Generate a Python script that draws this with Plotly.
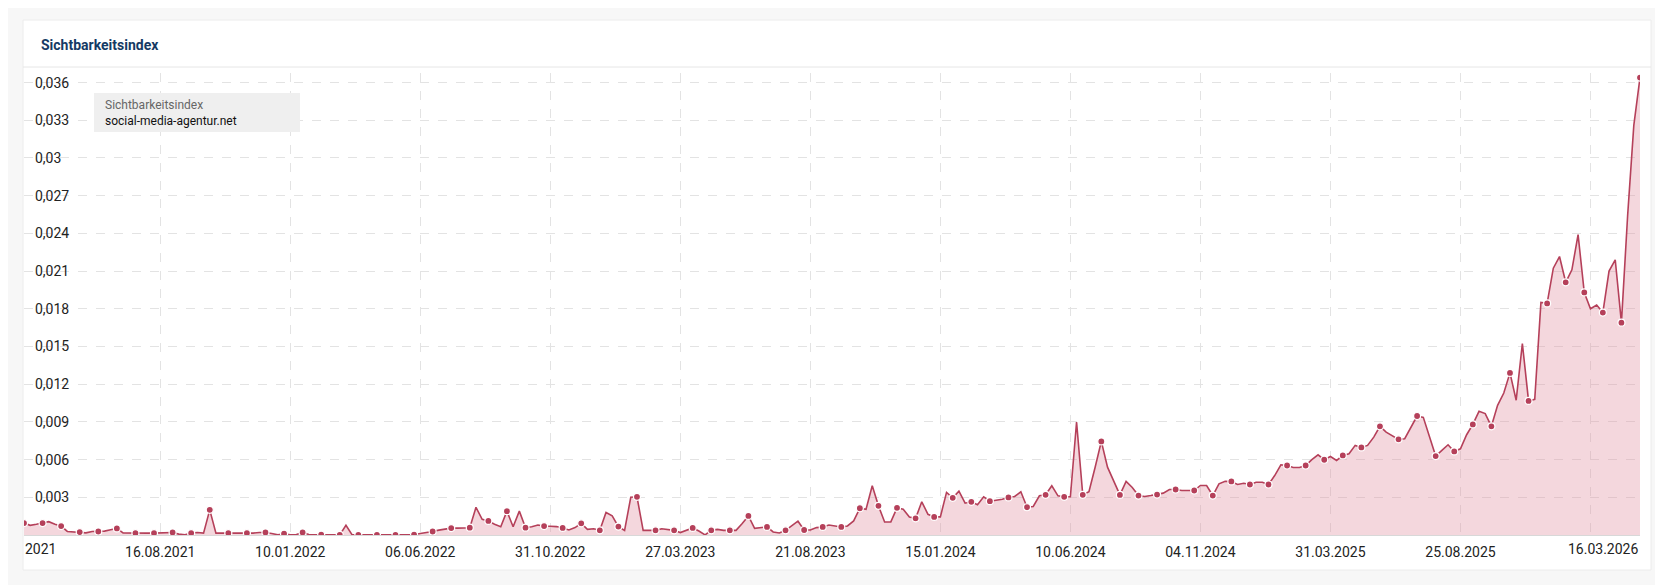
import pandas as pd
import plotly.graph_objects as go

W, H = 1663, 585

start_date = "2021-03-15"
visibility = [
    0.00095, 0.00077, 0.00085, 0.00095, 0.00106, 0.00085, 0.00071, 0.00028, 0.00023, 0.00023,
    0.00017, 0.00028, 0.00028, 0.00031, 0.00042, 0.00052, 0.00017, 0.00015, 0.00015, 0.00015,
    0.00015, 0.00015, 0.00015, 0.00017, 0.0002, 0.00007, 0.00002, 0.00015, 0.0002, 0.00015,
    0.002, 0.00015, 0.00015, 0.00015, 0.00012, 0.00015, 0.00015, 0.00015, 0.0002, 0.0002,
    0.00012, 0.00002, 0.0001, 0.00001, 0.00004, 0.0002, 0.00004, 0.00002, 0.00002, 0.00001,
    0.00001, 0.00001, 0.00077, 0.00001, 0.00001, 0.00001, 0.00001, 0.00001, 0.00001, 0.00001,
    0.00001, 0.00001, 0.00002, 0.00002, 0.00012, 0.00023, 0.00028, 0.00039, 0.0005, 0.00055,
    0.00055, 0.00058, 0.00058, 0.0022, 0.00125, 0.00112, 0.00085, 0.00066, 0.0019, 0.00066,
    0.0019, 0.00058, 0.00066, 0.0008, 0.00071, 0.0007, 0.00067, 0.00056, 0.0004, 0.00059,
    0.00093, 0.00045, 0.0005, 0.00037, 0.00179, 0.00152, 0.00067, 0.00037, 0.003, 0.00304,
    0.00037, 0.00037, 0.00037, 0.0005, 0.00045, 0.00037, 0.00019, 0.0004, 0.00056, 0.00032,
    0.00001, 0.00037, 0.00045, 0.00037, 0.00037, 0.00037, 0.00091, 0.00152, 0.00053, 0.00056,
    0.00064, 0.00024, 0.00016, 0.00037, 0.00072, 0.0011, 0.0004, 0.0004, 0.00059, 0.00064,
    0.0008, 0.00072, 0.00064, 0.00072, 0.00112, 0.00213, 0.00205, 0.00392, 0.00232, 0.00104,
    0.00104, 0.00216, 0.00205, 0.00144, 0.00133, 0.00264, 0.00165, 0.00144, 0.00144, 0.00339,
    0.00296, 0.00349, 0.00253, 0.00264, 0.0024, 0.00304, 0.00269, 0.00277, 0.00285, 0.00299,
    0.00307, 0.00344, 0.00221, 0.00227, 0.00312, 0.0032, 0.00392, 0.00312, 0.00304, 0.00304,
    0.00899, 0.0032, 0.00344, 0.00539, 0.00745, 0.0054, 0.00434, 0.00319, 0.00426, 0.00378,
    0.00314, 0.00306, 0.00314, 0.00322, 0.00333, 0.00362, 0.00362, 0.00354, 0.00354, 0.00354,
    0.00394, 0.00394, 0.00314, 0.00407, 0.00428, 0.00426, 0.00402, 0.00412, 0.00402, 0.0042,
    0.0042, 0.00402, 0.00473, 0.00559, 0.00553, 0.00537, 0.00537, 0.00553, 0.00599, 0.00638,
    0.00599, 0.00625, 0.00593, 0.00633, 0.00646, 0.00713, 0.00697, 0.00713, 0.00779, 0.00865,
    0.00819, 0.00787, 0.00761, 0.00766, 0.00859, 0.00947, 0.00936, 0.00779, 0.00628, 0.00673,
    0.00718, 0.00665, 0.00686, 0.00798, 0.0088, 0.00984, 0.00966, 0.00865, 0.01032, 0.0113,
    0.0129, 0.01072, 0.01524, 0.01067, 0.0108, 0.01851, 0.01843, 0.02123, 0.02216, 0.02011,
    0.0211, 0.0239, 0.0193, 0.018, 0.0183, 0.0177, 0.021, 0.0219, 0.0169, 0.0254,
    0.0326, 0.0364,
]
tick_dates = ["2021-08-16", "2022-01-10", "2022-06-06", "2022-10-31", "2023-03-27",
              "2023-08-21", "2024-01-15", "2024-06-10", "2024-11-04", "2025-03-31", "2025-08-25",
              "2026-01-19"]
tick_labels = ["16.08.2021", "10.01.2022", "06.06.2022", "31.10.2022", "27.03.2023",
               "21.08.2023", "15.01.2024", "10.06.2024", "04.11.2024", "31.03.2025", "25.08.2025",
               ""]
first_label, last_label = "2021", "16.03.2026"
y_ticks = [0.003 * k for k in range(1, 13)]

dates = pd.date_range(start_date, periods=len(visibility), freq="7D")
df = pd.DataFrame({"date": dates, "value": visibility})
dots = df.iloc[::3]

line_col = "#b5405a"
fx = lambda x: x / W
fy = lambda y: 1 - y / H

fig = go.Figure()
fig.add_trace(go.Scatter(x=df["date"], y=df["value"], mode="lines",
                         line=dict(color=line_col, width=1.6),
                         fill="tozeroy", fillcolor="rgba(226,150,166,0.38)",
                         hoverinfo="skip", showlegend=False))
fig.add_trace(go.Scatter(x=dots["date"], y=dots["value"], mode="markers",
                         marker=dict(color=line_col, size=7, line=dict(color="white", width=1.2)),
                         showlegend=False))

ytop = 0.0368
top_px = 527 - ytop / 0.003 * 37.7
grid = "#e3e3e3"

fig.update_layout(
    width=W, height=H,
    margin=dict(l=0, r=0, t=0, b=0),
    paper_bgcolor="#f7f7f7", plot_bgcolor="rgba(0,0,0,0)",
    font=dict(family="Roboto", size=14, color="#222"),
    separators=",.",
    xaxis=dict(domain=[fx(16), fx(1632)], range=[dates[0], dates[-1]],
               tickmode="array", tickvals=pd.to_datetime(tick_dates), ticktext=tick_labels,
               showgrid=True, gridcolor=grid, griddash="dash", gridwidth=1,
               showline=True, linecolor="#d8d8d8", zeroline=False, ticks="",
               ticklabelstandoff=4, tickfont=dict(size=14, color="#222")),
    yaxis=dict(domain=[fy(527), fy(top_px)], range=[0, ytop],
               tickmode="array", tickvals=y_ticks, tickformat=",.3~f",
               ticklabelposition="inside", ticklabelstandoff=8,
               showgrid=True, gridcolor=grid, griddash="dash", gridwidth=1,
               zeroline=False, tickfont=dict(size=14, color="#222")),
    shapes=[
        dict(type="rect", xref="paper", yref="paper", layer="below",
             x0=fx(15), x1=fx(1643), y0=fy(562), y1=fy(12),
             fillcolor="white", line=dict(color="#ececec", width=1)),
        dict(type="line", xref="paper", yref="paper", layer="below",
             x0=fx(15), x1=fx(1643), y0=fy(59), y1=fy(59),
             line=dict(color="#e6e6e6", width=1)),
        dict(type="rect", xref="paper", yref="paper",
             x0=fx(86), x1=fx(292), y0=fy(124), y1=fy(85),
             fillcolor="#efefef", line=dict(width=0)),
    ],
    annotations=[
        dict(text="<b>Sichtbarkeitsindex</b>", xref="paper", yref="paper",
             x=fx(31), y=fy(37), xanchor="left", yanchor="middle", showarrow=False,
             font=dict(size=14, color="#153a64")),
        dict(text="Sichtbarkeitsindex", xref="paper", yref="paper",
             x=fx(95), y=fy(97), xanchor="left", yanchor="middle", showarrow=False,
             font=dict(size=12, color="#666")),
        dict(text="social-media-agentur.net", xref="paper", yref="paper",
             x=fx(95), y=fy(113), xanchor="left", yanchor="middle", showarrow=False,
             font=dict(size=12, color="#111")),
        dict(text=first_label, xref="paper", yref="paper",
             x=fx(15), y=fy(541), xanchor="left", yanchor="middle", showarrow=False,
             font=dict(size=14, color="#222")),
        dict(text=last_label, xref="paper", yref="paper",
             x=fx(1632), y=fy(541), xanchor="right", yanchor="middle", showarrow=False,
             font=dict(size=14, color="#222")),
    ],
)

fig.write_html("out.html")
